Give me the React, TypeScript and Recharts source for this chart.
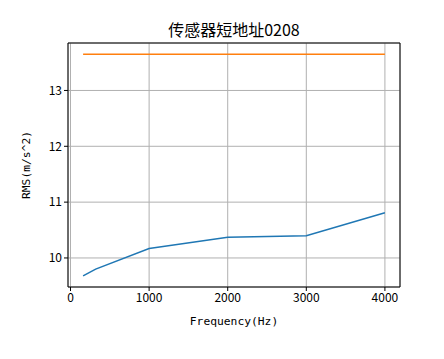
import React from 'react';
import { LineChart, Line, XAxis, YAxis, CartesianGrid, ReferenceLine } from 'recharts';

const freqs = [160, 320, 1000, 2000, 3000, 4000];
const rmsValues = [9.68, 9.8, 10.17, 10.37, 10.4, 10.81];
const limitFreqs = [160, 4000];
const limitValues = [13.65, 13.65];
const xTicks = [0, 1000, 2000, 3000, 4000];
const yTicks = [10, 11, 12, 13];

const rmsData = freqs.map((f, i) => ({ f, v: rmsValues[i] }));
const limitData = limitFreqs.map((f, i) => ({ f, v: limitValues[i] }));

const xDomain = [-32, 4192];
const yDomain = [9.48, 13.85];

const font = '"Noto Sans CJK SC", "DejaVu Sans", sans-serif';
const monoFont = '"DejaVu Sans Mono", "Liberation Mono", monospace';
const tickStyle = { fill: '#000', fontSize: 12, fontFamily: font };
const labelStyle = { fill: '#000', fontSize: 11.3, fontFamily: monoFont };

export default function App() {
  return (
    <div style={{ position: 'absolute', left: 0, top: 0, width: 444, height: 359, background: '#fff' }}>
      <div
        style={{
          position: 'absolute',
          left: 68,
          width: 332,
          top: 19,
          textAlign: 'center',
          fontFamily: font,
          fontSize: 16,
          lineHeight: '20px',
          color: '#000',
        }}
      >
        传感器短地址0208
      </div>
      <LineChart width={444} height={359} margin={{ top: 43, right: 44, left: 0, bottom: 42 }}>
        <CartesianGrid stroke="#b0b0b0" strokeWidth={1} xAxisId="x" yAxisId="y" />
        <XAxis
          xAxisId="x"
          dataKey="f"
          type="number"
          domain={xDomain}
          ticks={xTicks}
          allowDataOverflow
          height={30}
          tick={tickStyle}
          tickSize={4}
          tickLine={{ stroke: '#000' }}
          axisLine={{ stroke: '#000' }}
          label={{ value: 'Frequency(Hz)', position: 'bottom', offset: 0, style: labelStyle }}
        />
        <YAxis
          yAxisId="y"
          type="number"
          domain={yDomain}
          ticks={yTicks}
          allowDataOverflow
          width={68}
          tick={tickStyle}
          tickSize={4}
          tickLine={{ stroke: '#000' }}
          axisLine={{ stroke: '#000' }}
          label={{ value: 'RMS(m/s^2)', angle: -90, position: 'insideLeft', offset: 26, style: { ...labelStyle, textAnchor: 'middle' } }}
        />
        <Line
          xAxisId="x"
          yAxisId="y"
          data={rmsData}
          dataKey="v"
          type="linear"
          stroke="#1f77b4"
          strokeWidth={1.5}
          dot={false}
          isAnimationActive={false}
        />
        <Line
          xAxisId="x"
          yAxisId="y"
          data={limitData}
          dataKey="v"
          type="linear"
          stroke="#ff7f0e"
          strokeWidth={1.5}
          dot={false}
          isAnimationActive={false}
        />
        <ReferenceLine xAxisId="x" yAxisId="y" y={yDomain[1]} stroke="#000" strokeWidth={1} />
        <ReferenceLine xAxisId="x" yAxisId="y" x={xDomain[1]} stroke="#000" strokeWidth={1} />
      </LineChart>
    </div>
  );
}
